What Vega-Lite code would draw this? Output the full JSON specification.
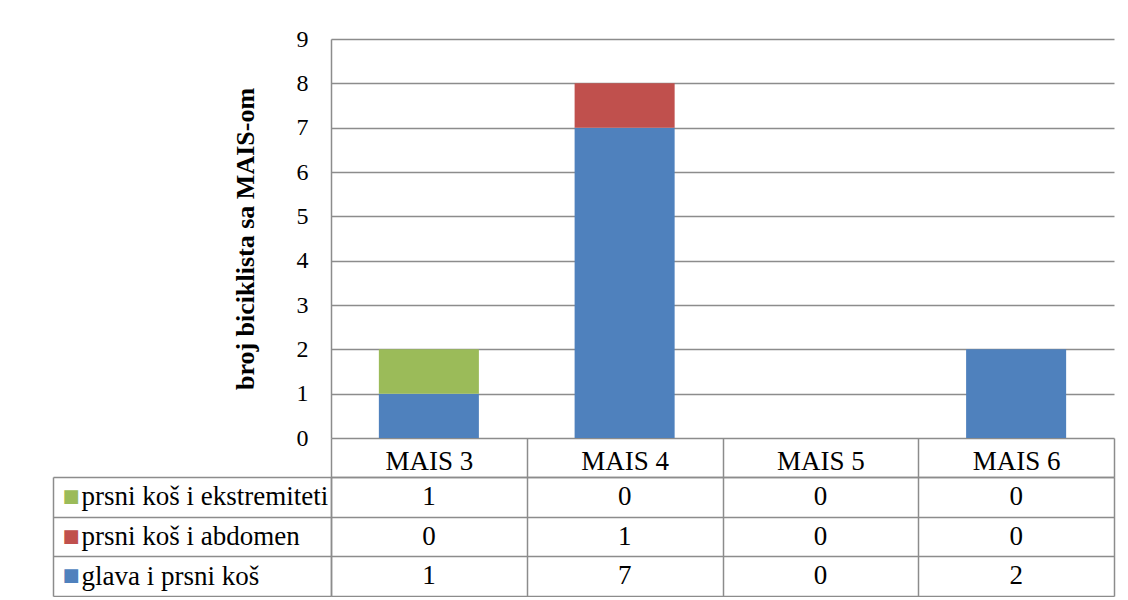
{
  "$schema": "https://vega.github.io/schema/vega-lite/v6.json",
  "padding": {"left": 52, "top": 27, "right": 10, "bottom": 0},
  "background": "white",
  "data": {"values": [
    {"kategorija": "MAIS 3", "serija": "glava i prsni koš", "broj": 1},
    {"kategorija": "MAIS 3", "serija": "prsni koš i abdomen", "broj": 0},
    {"kategorija": "MAIS 3", "serija": "prsni koš i ekstremiteti", "broj": 1},
    {"kategorija": "MAIS 4", "serija": "glava i prsni koš", "broj": 7},
    {"kategorija": "MAIS 4", "serija": "prsni koš i abdomen", "broj": 1},
    {"kategorija": "MAIS 4", "serija": "prsni koš i ekstremiteti", "broj": 0},
    {"kategorija": "MAIS 5", "serija": "glava i prsni koš", "broj": 0},
    {"kategorija": "MAIS 5", "serija": "prsni koš i abdomen", "broj": 0},
    {"kategorija": "MAIS 5", "serija": "prsni koš i ekstremiteti", "broj": 0},
    {"kategorija": "MAIS 6", "serija": "glava i prsni koš", "broj": 2},
    {"kategorija": "MAIS 6", "serija": "prsni koš i abdomen", "broj": 0},
    {"kategorija": "MAIS 6", "serija": "prsni koš i ekstremiteti", "broj": 0}
  ]},
  "bounds": "flush",
  "spacing": 39,
  "resolve": {"scale": {"x": "independent", "y": "independent"}},
  "vconcat": [
    {
      "width": 783,
      "height": 399,
      "mark": {"type": "bar"},
      "encoding": {
        "x": {"field": "kategorija", "type": "nominal", "sort": ["MAIS 3", "MAIS 4", "MAIS 5", "MAIS 6"],
              "scale": {"paddingInner": 0.489, "paddingOuter": 0.2445}, "axis": null},
        "y": {"field": "broj", "type": "quantitative", "stack": "zero",
              "scale": {"domain": [0, 9], "nice": false},
              "axis": {"values": [0, 1, 2, 3, 4, 5, 6, 7, 8, 9], "title": "broj biciklista sa MAIS-om",
                       "titleFont": "Liberation Serif", "titleFontSize": 26, "titleFontWeight": "bold", "titleColor": "black",
                       "titlePadding": 38, "labelFont": "Liberation Serif", "labelFontSize": 24, "labelColor": "black",
                       "labelPadding": 23, "ticks": false, "domain": true, "domainColor": "#8C8C8C", "domainWidth": 1.5,
                       "grid": true, "gridColor": "#8C8C8C", "gridWidth": 1.5, "gridOpacity": 1}},
        "color": {"field": "serija", "type": "nominal",
                  "scale": {"domain": ["glava i prsni koš", "prsni koš i abdomen", "prsni koš i ekstremiteti"],
                            "range": ["#4F81BD", "#C0504D", "#9BBB59"]}, "legend": null},
        "order": {"field": "serija", "sort": "ascending"}
      }
    },
    {
      "width": 783,
      "height": 119,
      "encoding": {
        "x": {"field": "kategorija", "type": "nominal", "sort": ["MAIS 3", "MAIS 4", "MAIS 5", "MAIS 6"],
              "scale": {"paddingInner": 0, "paddingOuter": 0},
              "axis": {"orient": "top", "title": null, "tickBand": "extent", "ticks": true, "tickSize": 39,
                       "tickColor": "#8C8C8C", "tickWidth": 1.5, "domain": true, "domainColor": "#8C8C8C", "domainWidth": 1.5,
                       "grid": true, "gridColor": "#8C8C8C", "gridWidth": 1.5, "gridOpacity": 1,
                       "labelFont": "Liberation Serif", "labelFontSize": 27, "labelColor": "black",
                       "labelPadding": -23, "labelBaseline": "middle", "labelAngle": 0}}
      },
      "layer": [
        {
          "mark": {"type": "text", "font": "Liberation Serif", "fontSize": 27, "color": "black", "baseline": "middle"},
          "encoding": {
            "text": {"field": "broj", "type": "quantitative"},
            "y": {"field": "serija", "type": "nominal",
                  "sort": ["prsni koš i ekstremiteti", "prsni koš i abdomen", "glava i prsni koš"],
                  "scale": {"paddingInner": 0, "paddingOuter": 0},
                  "axis": {"orient": "left", "title": null, "tickBand": "extent", "ticks": true, "tickSize": 278,
                           "tickColor": "#8C8C8C", "tickWidth": 1.5, "domain": true, "domainColor": "#8C8C8C", "domainWidth": 1.5,
                           "grid": true, "gridColor": "#8C8C8C", "gridWidth": 1.5, "gridOpacity": 1,
                           "labelFont": "Liberation Serif", "labelFontSize": 27, "labelColor": "black", "labelLimit": 400,
                           "labelAlign": "left", "labelBaseline": "middle", "labelPadding": -28}}
          }
        },
        {
          "mark": {"type": "text", "opacity": 0},
          "encoding": {
            "text": {"value": ""},
            "y": {"field": "serija", "type": "nominal",
                  "sort": ["prsni koš i ekstremiteti", "prsni koš i abdomen", "glava i prsni koš"],
                  "scale": {"paddingInner": 0, "paddingOuter": 0},
                  "axis": {"orient": "left", "title": null, "offset": 278, "ticks": false, "grid": false,
                           "domain": true, "domainColor": "#8C8C8C", "domainWidth": 1.5,
                           "labelExpr": "'■'", "labelFont": "DejaVu Sans", "labelFontSize": 18,
                           "labelAlign": "left", "labelBaseline": "middle", "labelPadding": -9,
                           "labelColor": {"condition": [
                             {"test": "datum.value === 'prsni koš i ekstremiteti'", "value": "#9BBB59"},
                             {"test": "datum.value === 'prsni koš i abdomen'", "value": "#C0504D"}
                           ], "value": "#4F81BD"}}}
          }
        }
      ],
      "resolve": {"axis": {"y": "independent"}}
    }
  ],
  "config": {"view": {"stroke": null}}
}
